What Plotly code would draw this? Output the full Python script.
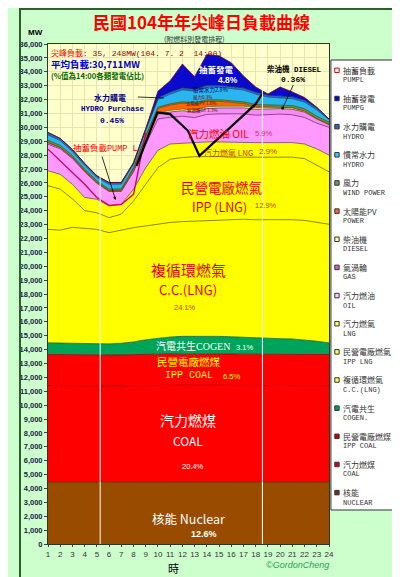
import plotly.graph_objects as go

# hour of day (x categories)
hours = list(range(1, 25))

# generation by source, MW per hour (stack order: bottom -> top)
nuclear = [4442, 4440, 4439, 4441, 4440, 4438, 4437, 4439, 4436, 4434, 4432, 4430,
           4431, 4429, 4428, 4430, 4431, 4433, 4434, 4435, 4437, 4438, 4440, 4441]
coal = [6960, 6950, 6940, 6930, 6930, 6920, 6940, 6960, 6980, 6990, 7000, 6990,
        7010, 7000, 7000, 7010, 7000, 6990, 6990, 6980, 6980, 6970, 6970, 6960]
ipp_coal = [2240, 2240, 2235, 2230, 2230, 2225, 2230, 2235, 2240, 2240, 2245, 2245,
            2240, 2240, 2240, 2235, 2235, 2240, 2240, 2240, 2235, 2235, 2240, 2240]
cogen = [840, 840, 835, 830, 820, 825, 845, 915, 1045, 1155, 1225, 1285,
         1280, 1290, 1280, 1245, 1215, 1155, 1125, 1125, 1110, 1055, 950, 840]
cc_lng = [8170, 8130, 8350, 8270, 8230, 8010, 8150, 8230, 8200, 8200, 8250, 8260,
          8290, 8340, 8400, 8460, 8500, 8530, 8560, 8600, 8590, 8600, 8550, 8540]
ipp_lng = [3140, 2950, 2050, 1300, 1200, 1080, 1150, 1920, 3000, 4080, 4550, 4620,
           4630, 4600, 4550, 4470, 4470, 4500, 4500, 4470, 4500, 4450, 4100, 3780]
lng_steam = [1080, 1070, 1050, 950, 970, 840, 710, 840, 1200, 1250, 1100, 1020,
             1070, 1050, 1050, 1070, 1070, 1050, 1050, 1070, 1050, 1050, 1200, 1200]
oil = [1910, 1830, 1850, 1840, 1150, 1040, 920, 1250, 1680, 2250, 1920, 1950,
       1750, 1980, 2020, 2050, 2050, 1980, 2030, 2030, 2000, 1920, 1850, 2000]
gas_turbine = [120, 100, 80, 80, 60, 50, 50, 80, 250, 350, 380, 400,
               400, 420, 430, 430, 430, 420, 420, 400, 400, 380, 300, 200]
diesel = [10, 10, 10, 10, 10, 10, 10, 20, 60, 100, 120, 125,
          125, 127, 127, 127, 125, 125, 120, 120, 110, 80, 40, 10]
solar = [0, 0, 0, 0, 0, 5, 40, 120, 220, 320, 380, 420,
         430, 400, 350, 280, 190, 90, 20, 0, 0, 0, 0, 0]
wind = [150, 140, 130, 120, 110, 100, 90, 80, 80, 80, 90, 100,
        100, 100, 110, 110, 120, 130, 140, 150, 150, 160, 160, 160]
hydro = [390, 350, 290, 270, 240, 360, 340, 280, 390, 550, 700, 850,
         850, 900, 900, 880, 850, 750, 550, 500, 500, 480, 460, 180]
hydro_purchase = [180, 150, 140, 130, 120, 125, 120, 80, 120, 150, 160, 160,
                  160, 160, 160, 160, 160, 150, 150, 150, 150, 150, 150, 50]
pump_gen = [0, 0, 0, 0, 0, 0, 0, 0, 0, 450, 800, 1705,
            885, 2212, 2103, 1693, 855, 355, 70, 630, 340, 180, 40, 0]

# pumping-load line (night hours)
pump_load_hours = [1, 2, 3, 4, 5, 6, 7, 8, 9]
pump_load = [28430, 27590, 26750, 25900, 24950, 24380, 24450, 25180, 29600]

# black guide line drawn across the chart
guide_x = [8.25, 9.3, 9.96, 11.0, 12.46, 13.39, 17.99, 18.52]
guide_y = [27230, 29510, 31070, 30950, 29750, 27950, 31670, 32400]

# sunrise / sunset markers
sun_hours = [5.27, 18.55]

# (zh, en, values, fill, edge, legend box)
SERIES = [
    ("核能", "NUCLEAR", nuclear, "#994C00", "#5C2E00", "#663322"),
    ("汽力燃煤", "COAL", coal, "#FF0000", "#990000", "#CC0033"),
    ("民營電廠燃煤", "IPP COAL", ipp_coal, "#FF0000", "#990000", "#CC0000"),
    ("汽電共生", "COGEN.", cogen, "#00A35A", "#00663A", "#009966"),
    ("複循環燃氣", "C.C.(LNG)", cc_lng, "#FFFF00", "#6B6B00", "#FFFF66"),
    ("民營電廠燃氣", "IPP LNG", ipp_lng, "#FFFF00", "#6B6B00", "#FFFF66"),
    ("汽力燃氣", "LNG", lng_steam, "#FFFF00", "#6B4A6B", "#FFFF66"),
    ("汽力燃油", "OIL", oil, "#FF99FF", "#7A2A7A", "#FFCCFF"),
    ("氣渦輪", "GAS", gas_turbine, "#F58CF5", "#553355", "#CC66CC"),
    ("柴油機", "DIESEL", diesel, "#FFFF99", "#666633", "#FFFF99"),
    ("太陽能PV", "POWER", solar, "#FF6600", "#993300", "#FF6633"),
    ("風力", "WIND POWER", wind, "#669933", "#335511", "#669966"),
    ("慣常水力", "HYDRO", hydro, "#29B6F0", "#00557F", "#33CCFF"),
    ("水力購電", "HYDRO", hydro_purchase, "#3366CC", "#001F66", "#3366AA"),
    ("抽蓄發電", "PUMPG", pump_gen, "#0A0ACC", "#800020", "#0000CC"),
]

CJK = "Noto Sans CJK TC"
MONO = "Liberation Mono, Noto Sans CJK TC"

# plot area in pixels (400 x 577 canvas)
PL, PT, PW, PH = 30, 36, 291, 500


def px(x):
    return (x - PL) / PW


def py(y):
    return (PT + PH - y) / PH


fig = go.Figure()

for zh, en, vals, fill, edge, _ in SERIES:
    fig.add_trace(go.Scatter(
        x=hours, y=vals, name=f"{zh} {en}", stackgroup="gen", mode="lines",
        fillcolor=fill, line=dict(color=edge, width=0.8), hoverinfo="skip",
    ))

fig.add_trace(go.Scatter(
    x=pump_load_hours, y=pump_load, name="抽蓄負載 PUMPL", mode="lines",
    line=dict(color="#CC0066", width=1.3), hoverinfo="skip",
))
fig.add_trace(go.Scatter(
    x=guide_x, y=guide_y, mode="lines", line=dict(color="black", width=2.2),
    hoverinfo="skip",
))

shapes = []
for h in sun_hours:
    shapes.append(dict(type="line", xref="x", yref="y", x0=h, x1=h, y0=0, y1=36000,
                       line=dict(color="white", width=1), layer="above"))

annotations = []


def text(t, x, y, size, color, family=CJK, bold=False, anchor="center", italic=False):
    annotations.append(dict(
        text=t, x=px(x), y=py(y), xref="paper", yref="paper", showarrow=False,
        xanchor=anchor, yanchor="middle", borderpad=0,
        font=dict(family=family, size=size, color=color,
                  weight="bold" if bold else "normal",
                  style="italic" if italic else "normal"),
    ))


# headings
text("民國104年年尖峰日負載曲線", 189, 14, 17, "#FF0000", bold=True)
text("(附燃料別發電排程)", 182, 30.5, 7, "#333333")
text("MW", 17, 25, 8, "#000000", family="Liberation Sans", bold=True)
text("<span style='color:#FF0000'>尖峰負載:</span> 35, 248MW(104. 7. 2  14:00)",
     32, 45, 8, "#990000", family=MONO, anchor="left")
text("平均負載:30,711MW", 32, 56, 9.5, "#0000CC", bold=True, anchor="left")
text("(%值為14:00各類發電佔比)", 32, 68, 7.5, "#006600", bold=True, anchor="left")

# in-chart labels
text("水力購電", 94, 89, 8, "#000080", bold=True)
text("HYDRO Purchase", 97, 101, 7.5, "#000080", family=MONO, bold=True)
text("0.45%", 96, 112, 8, "#000080", family=MONO, bold=True)
text("抽蓄發電", 204, 61, 8.5, "white", bold=True)
text("4.8%", 216, 72.5, 8.5, "white", family="Liberation Sans", bold=True)
text("慣常水力2.8%", 198, 82, 5.5, "#000060")
text("風力0.3%", 190, 89, 4.5, "#660000")
text("太陽能PV 1.6%", 188, 95.3, 4.5, "#660000")
text("氣渦輪GT 1.3%", 190, 102, 4.5, "#660000")
text("柴油機 DIESEL", 285, 61, 7.5, "black", family=MONO, bold=True)
text("0.36%", 284, 72, 8, "black", family=MONO, bold=True)
text("汽力燃油 OIL", 207, 125, 10.5, "#FF0000")
text("5.9%", 253, 125, 7.5, "#CC3366", family="Liberation Sans")
text("汽力燃氣 LNG", 217, 144, 8, "#CC3300")
text("2.9%", 258, 143, 8, "#CC3300", family="Liberation Sans")
text("民營電廠燃氣", 210, 179, 13.5, "#E60000")
text("IPP (LNG)", 208, 198.5, 12.5, "#E60000")
text("12.9%", 256, 198, 7.5, "#CC3300", family="Liberation Sans")
text("複循環燃氣", 175, 261, 15, "#E60000")
text("C.C.(LNG)", 175, 281, 13, "#E60000")
text("24.1%", 172, 299, 7.5, "#CC3300", family="Liberation Sans")
text("汽電共生COGEN", 180, 338, 10, "white", family="Liberation Serif, Noto Sans CJK TC")
text("3.1%", 233, 339, 7.5, "white", family="Liberation Sans")
text("民營電廠燃煤", 176, 353, 10.5, "#FFFF00")
text("IPP COAL", 176, 368, 10, "#FFFF00", family=MONO)
text("6.5%", 220, 369, 7.5, "#FFFF00", family="Liberation Sans")
text("汽力燃煤", 175, 412, 14, "white")
text("COAL", 175, 432, 12, "white")
text("20.4%", 180, 458, 7.5, "white", family="Liberation Sans")
text("核能 Nuclear", 176, 510, 12.5, "white")
text("12.6%", 192, 526, 9, "white", family="Liberation Sans", bold=True)
text("抽蓄負載PUMP L", 90, 140, 8.5, "#FF0000", family=MONO)
text("©GordonCheng", 288, 557, 9, "#2E9E5E", family="Liberation Sans", italic=True)
text("時", 160, 560, 11, "black")

# arrow for pumping load
annotations.append(dict(x=px(100), y=py(192), xref="paper", yref="paper",
                        ax=-14, ay=-45, axref="pixel", ayref="pixel",
                        text="", showarrow=True, arrowhead=2, arrowsize=0.8,
                        arrowwidth=0.8, arrowcolor="black"))

# pointer lines
for (x0, y0, x1, y1) in [(123, 89, 150, 90), (284, 77, 273, 100)]:
    shapes.append(dict(type="line", xref="paper", yref="paper",
                       x0=px(x0), y0=py(y0), x1=px(x1), y1=py(y1),
                       line=dict(color="black", width=0.8)))
shapes.append(dict(type="circle", xref="paper", yref="paper",
                   x0=px(271.5), x1=px(274.5), y0=py(98.5), y1=py(101.5),
                   fillcolor="black", line=dict(width=0)))

# custom legend box
shapes.append(dict(type="rect", xref="paper", yref="paper",
                   x0=px(323), x1=px(387.5), y0=py(52), y1=py(502),
                   fillcolor="white", line=dict(color="#333333", width=1)))
legend_items = [("抽蓄負載", "PUMPL", "white", "#CC0000")]
legend_items += [(zh, en, box, "#333333") for zh, en, _, _, _, box in reversed(SERIES)]
for i, (zh, en, box, edge) in enumerate(legend_items):
    yc = 62.3 + i * 28.15
    shapes.append(dict(type="rect", xref="paper", yref="paper",
                       x0=px(327), x1=px(331.5), y0=py(yc - 2.2), y1=py(yc + 2.3),
                       fillcolor=box, line=dict(color=edge, width=1)))
    text(zh, 334, yc, 8, "#333333", anchor="left")
    text(en, 334, yc + 10, 7, "#333333", family=MONO, anchor="left")

# outer frame
shapes.append(dict(type="rect", xref="paper", yref="paper",
                   x0=px(1), x1=px(399), y0=py(1), y1=py(576),
                   line=dict(color="#2E5E2E", width=2)))

fig.update_layout(
    width=400, height=577,
    margin=dict(l=PL, r=400 - PL - PW, t=PT, b=577 - PT - PH),
    paper_bgcolor="#CCFFCC",
    plot_bgcolor="#FFFFCC",
    showlegend=False,
    shapes=shapes,
    annotations=annotations,
    xaxis=dict(
        range=[1, 24], tickvals=hours, ticks="outside", ticklen=2,
        showline=True, linecolor="#333333", mirror=True,
        showgrid=True, gridcolor="#E2E8B0", gridwidth=0.6, zeroline=False,
        tickfont=dict(family="Liberation Sans", size=8, color="#333333"),
    ),
    yaxis=dict(
        range=[0, 36000], dtick=1000, tickformat=",", ticks="outside", ticklen=3,
        showline=True, linecolor="#333333", mirror=True,
        showgrid=True, gridcolor="#E2E8B0", gridwidth=0.6, zeroline=False,
        tickfont=dict(family="Liberation Sans", size=7.5, color="#222244", weight="bold"),
    ),
)

fig.write_html("out.html")
